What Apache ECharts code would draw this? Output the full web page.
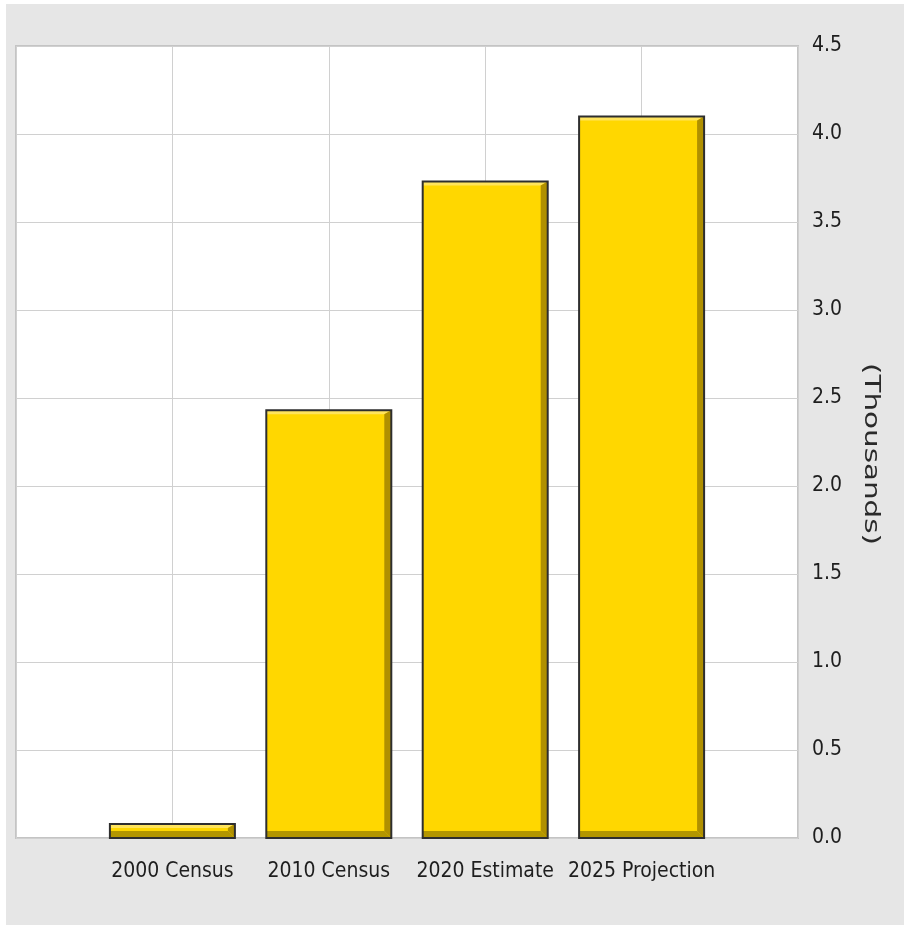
<!DOCTYPE html>
<html>
<head>
<meta charset="utf-8">
<script src="https://cdn.jsdelivr.net/npm/echarts@6/dist/echarts.min.js"></script>
<style>
html,body{margin:0;padding:0;background:#ffffff;}
#chart{width:904px;height:925px;}
</style>
</head>
<body>
<div id="chart"></div>
<script>
// Data
const categories = ['', '2000 Census', '2010 Census', '2020 Estimate', '2025 Projection', ''];
const barCategories = ['2000 Census', '2010 Census', '2020 Estimate', '2025 Projection'];
const values = [0.08, 2.43, 3.73, 4.10]; // thousands
const yTicks = [0, 0.5, 1.0, 1.5, 2.0, 2.5, 3.0, 3.5, 4.0, 4.5];
const axisName = '(Thousands)';

const chart = echarts.init(document.getElementById('chart'), null, {renderer: 'canvas'});
const condensed = "'DejaVu Sans Condensed', 'Liberation Sans Narrow', 'DejaVu Sans', sans-serif";

const BAR_W = 125;

function renderBar(params, api) {
  const cat = api.value(0);
  const v = api.value(1);
  const top = api.coord([cat, v]);
  const base = api.coord([cat, 0]);
  const x0 = top[0] - BAR_W / 2, x1 = top[0] + BAR_W / 2;
  const y0 = top[1], y1 = base[1];
  const h = y1 - y0;
  const b = Math.min(7, h / 2);
  const t = Math.min(4, h / 3);
  return {
    type: 'group',
    children: [
      {type: 'rect', shape: {x: x0, y: y0, width: BAR_W, height: h}, style: {fill: '#FFD700'}},
      {type: 'polygon', shape: {points: [[x0, y0], [x1, y0], [x1 - b, y0 + t], [x0, y0 + t]]}, style: {fill: '#FFE45C'}},
      {type: 'polygon', shape: {points: [[x1, y0], [x1, y1], [x1 - b, y1 - b], [x1 - b, y0 + t]]}, style: {fill: '#B09000'}},
      {type: 'polygon', shape: {points: [[x0, y1], [x1, y1], [x1 - b, y1 - b], [x0, y1 - b]]}, style: {fill: '#B39600'}},
      {type: 'rect', shape: {x: x0, y: y0, width: BAR_W, height: h}, style: {fill: 'none', stroke: '#2e2e2e', lineWidth: 2}}
    ]
  };
}

const option = {
  backgroundColor: '#ffffff',
  animation: false,
  graphic: [
    {type: 'rect', z: -100, shape: {x: 6, y: 4, width: 898, height: 921}, style: {fill: '#e6e6e6'}, silent: true},
    {type: 'text', x: 870, y: 454, rotation: -Math.PI / 2, scaleX: 1.4, z: 10,
      style: {text: axisName, font: "21px 'DejaVu Sans', Verdana, sans-serif", fill: '#2a2a2a', textAlign: 'center', textVerticalAlign: 'middle'}}
  ],
  grid: {
    left: 16, right: 106, top: 46, bottom: 87,
    show: true, backgroundColor: '#ffffff', borderColor: '#c4c4c4', borderWidth: 2
  },
  xAxis: {
    type: 'category',
    data: categories,
    boundaryGap: false,
    axisLine: {show: false},
    axisTick: {show: false},
    axisLabel: {interval: 0, margin: 23, fontFamily: condensed, fontSize: 21, color: '#1e1e1e'},
    splitLine: {show: true, lineStyle: {color: '#d0d0d0', width: 1}}
  },
  yAxis: {
    type: 'value',
    position: 'right',
    min: 0, max: 4.5, interval: 0.5,
    axisLine: {show: false},
    axisTick: {show: false},
    axisLabel: {margin: 14, fontFamily: condensed, fontSize: 21, color: '#1e1e1e',
      padding: [6, 0, 0, 0],
      formatter: v => v.toFixed(1)},
    splitLine: {show: true, lineStyle: {color: '#d0d0d0', width: 1}}
  },
  series: [{
    type: 'custom',
    renderItem: renderBar,
    data: barCategories.map((c, i) => [c, values[i]]),
    encode: {x: 0, y: 1},
    z: 5
  }]
};
chart.setOption(option);
</script>
</body>
</html>
